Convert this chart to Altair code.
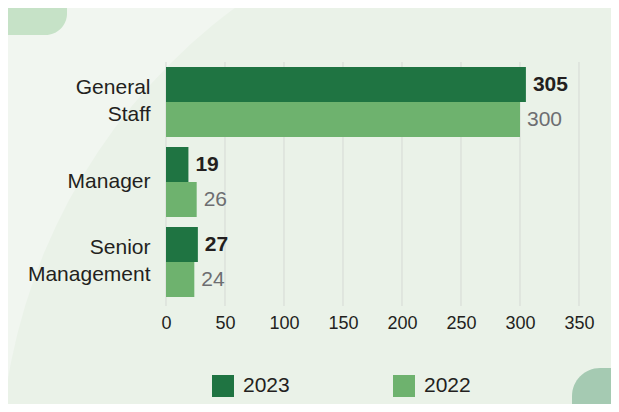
import altair as alt
import pandas as pd

# ---- data ----
categories = ["General Staff", "Manager", "Senior Management"]
values_2023 = [305, 19, 27]
values_2022 = [300, 26, 24]
years = ["2023", "2022"]
tick_values = [0, 50, 100, 150, 200, 250, 300, 350]

rows = []
for c, a, b in zip(categories, values_2023, values_2022):
    rows.append({"category": c, "year": "2023", "value": a})
    rows.append({"category": c, "year": "2022", "value": b})
df = pd.DataFrame(rows)
grid_df = pd.DataFrame({"tick": tick_values})
dummy = pd.DataFrame({"k": [0]})

DARK = "#1F7442"
LIGHT = "#6EB26E"
BG_LIGHT = "#F1F6F0"
BG_DARK = "#EAF2E8"
TEXT = "#231F20"
GREY = "#6D6E71"
FONT = "Liberation Sans"
W, H = 413, 244

x_scale = alt.Scale(domain=[0, 350], nice=False, zero=True)
y_scale = alt.Scale(domain=categories, range=[0, 240], paddingInner=0.125, paddingOuter=0.0625)
off_scale = alt.Scale(domain=years, paddingInner=0, paddingOuter=0)

x_axis = alt.Axis(values=tick_values, grid=False, domain=False, ticks=False,
                  labelFontSize=18, labelColor=TEXT, labelPadding=8, title=None,
                  labelFont=FONT, labelFlush=False, zindex=1)

# ---- decorative background shapes ----
deco_circle = alt.Chart(dummy).mark_point(shape="circle", filled=True, size=1354896,
                                          color=BG_DARK, opacity=1, strokeWidth=0).encode(
    x=alt.value(416), y=alt.value(413))
deco_tl = alt.Chart(dummy).mark_rect(color="#C6E2C7", cornerRadiusBottomRight=30).encode(
    x=alt.value(-170), x2=alt.value(-99), y=alt.value(-70), y2=alt.value(-27))
deco_br = alt.Chart(dummy).mark_rect(color="#A5CAB2", cornerRadiusTopLeft=28).encode(
    x=alt.value(406), x2=alt.value(520), y=alt.value(306), y2=alt.value(400))

grid = alt.Chart(grid_df).mark_rule(color="#D5D9D4", strokeWidth=1).encode(
    x=alt.X("tick:Q", scale=x_scale, axis=x_axis),
    y=alt.value(0), y2=alt.value(H))

label_expr = ("datum.label == 'General Staff' ? ['General', 'Staff'] : "
              "datum.label == 'Senior Management' ? ['Senior', 'Management'] : datum.label")

bars = alt.Chart(df).mark_bar().encode(
    x=alt.X("value:Q", scale=x_scale, axis=x_axis),
    y=alt.Y("category:N", sort=categories, scale=y_scale,
            axis=alt.Axis(title=None, domain=False, ticks=False, grid=False,
                          labelExpr=label_expr, labelFontSize=21, labelLineHeight=27,
                          labelColor=TEXT, labelPadding=16, labelAlign="right",
                          labelBaseline="middle", labelFont=FONT, labelLimit=300,
                          labelOffset={"condition": {"test": "datum.label != 'Manager'",
                                                     "value": -14},
                                       "value": 0},
                          zindex=1)),
    yOffset=alt.YOffset("year:N", sort=years, scale=off_scale),
    color=alt.Color("year:N", sort=years, scale=alt.Scale(domain=years, range=[DARK, LIGHT]),
                    legend=alt.Legend(orient="none", legendX=46, legendY=313,
                                      direction="horizontal", title=None,
                                      symbolType="square", symbolSize=484,
                                      symbolStrokeWidth=0, symbolOpacity=1,
                                      labelFontSize=21, labelColor=TEXT, labelFont=FONT,
                                      labelOffset=9, columnPadding=103, zindex=1)),
)

text_2023 = alt.Chart(df).transform_filter(alt.datum.year == "2023").mark_text(
    align="left", baseline="middle", dx=7, fontSize=21, fontWeight="bold",
    color=TEXT, font=FONT).encode(
    x=alt.X("value:Q", scale=x_scale),
    y=alt.Y("category:N", sort=categories, scale=y_scale),
    yOffset=alt.YOffset("year:N", sort=years, scale=off_scale),
    text="value:Q")

text_2022 = alt.Chart(df).transform_filter(alt.datum.year == "2022").mark_text(
    align="left", baseline="middle", dx=7, fontSize=21,
    color=GREY, font=FONT).encode(
    x=alt.X("value:Q", scale=x_scale),
    y=alt.Y("category:N", sort=categories, scale=y_scale),
    yOffset=alt.YOffset("year:N", sort=years, scale=off_scale),
    text="value:Q")

chart = alt.layer(
    deco_circle, deco_tl, deco_br, grid, bars, text_2023, text_2022
).properties(
    width=W, height=H,
    autosize=alt.AutoSizeParams(type="none"),
    padding={"left": 158, "top": 54, "right": 32, "bottom": 98},
    background=BG_LIGHT,
).configure(font=FONT).configure_view(strokeWidth=0)

chart.save("out.html", embed_options={"renderer": "svg", "actions": False})
